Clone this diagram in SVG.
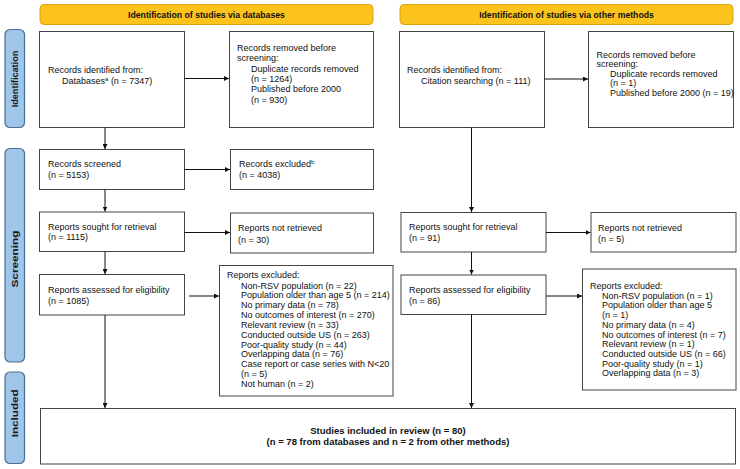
<svg xmlns="http://www.w3.org/2000/svg" width="740" height="469" viewBox="0 0 740 469">
<defs>
<marker id="ah" viewBox="0 0 10 10" refX="10" refY="5" markerWidth="5" markerHeight="5" orient="auto" markerUnits="userSpaceOnUse">
<path d="M0,0 L10,5 L0,10 z" fill="#111"/>
</marker>
<style>
.box{fill:#fff;stroke:#444;stroke-width:1}
.hdr{fill:#fcc31c;stroke:#d9a514;stroke-width:1}
.side{fill:#9fc5e8;stroke:#4a6f96;stroke-width:1.2}
.t{font-family:"Liberation Sans",Arial,sans-serif;font-size:9px;fill:#111}
.hb{font-family:"Liberation Sans",Arial,sans-serif;font-size:8.7px;font-weight:bold;fill:#111}
.sb{font-family:"Liberation Sans",Arial,sans-serif;font-size:9.3px;font-weight:bold;fill:#1a1a1a}
.ib{font-family:"Liberation Sans",Arial,sans-serif;font-size:9.5px;font-weight:bold;fill:#111}
.c{stroke:#111;stroke-width:1;fill:none;marker-end:url(#ah)}
</style>
</defs>
<rect width="740" height="469" fill="#fff"/>

<g id="hdr-db"><rect class="hdr" x="40" y="4.5" width="333" height="20" rx="4"/><text class="hb" x="206.5" y="17.5" text-anchor="middle">Identification of studies via databases</text></g>
<g id="hdr-other"><rect class="hdr" x="400" y="4.5" width="333" height="20" rx="4"/><text class="hb" x="566.5" y="17.5" text-anchor="middle">Identification of studies via other methods</text></g>

<g id="side-identification"><rect class="side" x="5" y="29.5" width="19.5" height="98" rx="5"/><text class="sb" transform="translate(18.3,79) rotate(-90)" text-anchor="middle" textLength="56.5" lengthAdjust="spacingAndGlyphs">Identification</text></g>
<g id="side-screening"><rect class="side" x="5" y="148.5" width="19.5" height="213.5" rx="5"/><text class="sb" transform="translate(18.3,259) rotate(-90)" text-anchor="middle" textLength="57" lengthAdjust="spacingAndGlyphs">Screening</text></g>
<g id="side-included"><rect class="side" x="5" y="372" width="19.5" height="91.5" rx="5"/><text class="sb" transform="translate(18.3,413.3) rotate(-90)" text-anchor="middle" textLength="48" lengthAdjust="spacingAndGlyphs">Included</text></g>

<g id="db-identified"><rect class="box" x="39.5" y="31.5" width="145" height="96"/>
<text class="t" x="48" y="73">Records identified from:</text>
<text class="t" x="62" y="83.5">Databases<tspan font-size="6" dy="-3">a</tspan><tspan dy="3"> (n = 7347)</tspan></text></g>

<g id="db-removed"><rect class="box" x="229.5" y="31.5" width="144" height="96"/>
<text class="t" x="237" y="51">Records removed before</text>
<text class="t" x="237" y="61.3">screening:</text>
<text class="t" x="251" y="71.6">Duplicate records removed</text>
<text class="t" x="251" y="81.9">(n = 1264)</text>
<text class="t" x="251" y="92.2">Published before 2000</text>
<text class="t" x="251" y="102.5">(n = 930)</text></g>

<g id="db-screened"><rect class="box" x="39.5" y="149.5" width="145" height="40"/>
<text class="t" x="48" y="167">Records screened</text>
<text class="t" x="48" y="177.5">(n = 5153)</text></g>

<g id="db-excluded"><rect class="box" x="230.5" y="149.5" width="143" height="40"/>
<text class="t" x="239" y="167">Records excluded<tspan font-size="6" dy="-3">b</tspan></text>
<text class="t" x="239" y="177.5">(n = 4038)</text></g>

<g id="db-sought"><rect class="box" x="39.5" y="212" width="145" height="39.5"/>
<text class="t" x="48" y="229.5">Reports sought for retrieval</text>
<text class="t" x="48" y="240">(n = 1115)</text></g>

<g id="db-notretrieved"><rect class="box" x="230.5" y="213" width="143" height="40"/>
<text class="t" x="238" y="231">Reports not retrieved</text>
<text class="t" x="238" y="243">(n = 30)</text></g>

<g id="db-assessed"><rect class="box" x="39.5" y="274.5" width="145" height="40.5"/>
<text class="t" x="48" y="293">Reports assessed for eligibility</text>
<text class="t" x="48" y="303.5">(n = 1085)</text></g>

<g id="db-reportsexcluded"><rect class="box" x="219.5" y="265.5" width="173.5" height="130.5"/>
<text class="t" x="227" y="278.3">Reports excluded:</text>
<text class="t" x="241" y="288.5">Non-RSV population (n = 22)</text>
<text class="t" x="241" y="298.2">Population older than age 5 (n = 214)</text>
<text class="t" x="241" y="308.2">No primary data (n = 78)</text>
<text class="t" x="241" y="318.2">No outcomes of interest (n = 270)</text>
<text class="t" x="241" y="328.2">Relevant review (n = 33)</text>
<text class="t" x="241" y="338">Conducted outside US (n = 263)</text>
<text class="t" x="241" y="347.7">Poor-quality study (n = 44)</text>
<text class="t" x="241" y="357.4">Overlapping data (n = 76)</text>
<text class="t" x="241" y="367.1">Case report or case series with N&lt;20</text>
<text class="t" x="241" y="376.8">(n = 5)</text>
<text class="t" x="241" y="387.3">Not human (n = 2)</text></g>

<g id="ot-identified"><rect class="box" x="399.5" y="31.5" width="145" height="96"/>
<text class="t" x="407" y="73">Records identified from:</text>
<text class="t" x="421" y="83.5">Citation searching (n = 111)</text></g>

<g id="ot-removed"><rect class="box" x="588.5" y="31.5" width="145" height="96"/>
<text class="t" x="596.5" y="57.8">Records removed before</text>
<text class="t" x="596.5" y="67.3">screening:</text>
<text class="t" x="610" y="76.8">Duplicate records removed</text>
<text class="t" x="610" y="86.2">(n = 1)</text>
<text class="t" x="610" y="95.6" font-size="8.75">Published before 2000 (n = 19)</text></g>

<g id="ot-sought"><rect class="box" x="401" y="212.5" width="145" height="39.5"/>
<text class="t" x="409" y="230">Reports sought for retrieval</text>
<text class="t" x="409" y="240.5">(n = 91)</text></g>

<g id="ot-notretrieved"><rect class="box" x="591" y="212.5" width="145" height="39.5"/>
<text class="t" x="598" y="230.5">Reports not retrieved</text>
<text class="t" x="598" y="242">(n = 5)</text></g>

<g id="ot-assessed"><rect class="box" x="401" y="275" width="145" height="39.5"/>
<text class="t" x="409" y="293">Reports assessed for eligibility</text>
<text class="t" x="409" y="303.5">(n = 86)</text></g>

<g id="ot-reportsexcluded"><rect class="box" x="582.5" y="269" width="153.5" height="121"/>
<text class="t" x="590" y="289">Reports excluded:</text>
<text class="t" x="602" y="298.7">Non-RSV population (n = 1)</text>
<text class="t" x="602" y="308.4">Population older than age 5</text>
<text class="t" x="602" y="318.1">(n = 1)</text>
<text class="t" x="602" y="327.8">No primary data (n = 4)</text>
<text class="t" x="602" y="337.5">No outcomes of interest (n = 7)</text>
<text class="t" x="602" y="347.2">Relevant review (n = 1)</text>
<text class="t" x="602" y="356.9">Conducted outside US (n = 66)</text>
<text class="t" x="602" y="366.6">Poor-quality study (n = 1)</text>
<text class="t" x="602" y="376.3">Overlapping data (n = 3)</text></g>

<g id="included"><rect class="box" x="40.5" y="408.5" width="695" height="55.5"/>
<text class="ib" x="388" y="433.5" text-anchor="middle">Studies included in review (n = 80)</text>
<text class="ib" x="388" y="444.5" text-anchor="middle">(n = 78 from databases and n = 2 from other methods)</text></g>

<g id="connectors">
<line class="c" x1="184.5" y1="78.5" x2="229" y2="78.5"/>
<line class="c" x1="105" y1="127.5" x2="105" y2="149"/>
<line class="c" x1="184.5" y1="169.5" x2="230" y2="169.5"/>
<line class="c" x1="105" y1="189.5" x2="105" y2="211.5"/>
<line class="c" x1="184.5" y1="232.5" x2="230" y2="232.5"/>
<line class="c" x1="105" y1="251.5" x2="105" y2="274"/>
<line class="c" x1="189" y1="296" x2="219" y2="296"/>
<line class="c" x1="105" y1="315" x2="105" y2="408"/>
<line class="c" x1="544.5" y1="79" x2="588" y2="79"/>
<line class="c" x1="471.5" y1="127.5" x2="471.5" y2="212"/>
<line class="c" x1="546" y1="232.5" x2="590.5" y2="232.5"/>
<line class="c" x1="471.5" y1="252" x2="471.5" y2="274.5"/>
<line class="c" x1="546" y1="296" x2="582" y2="296"/>
<line class="c" x1="471.5" y1="314.5" x2="471.5" y2="408"/>
</g>
</svg>
